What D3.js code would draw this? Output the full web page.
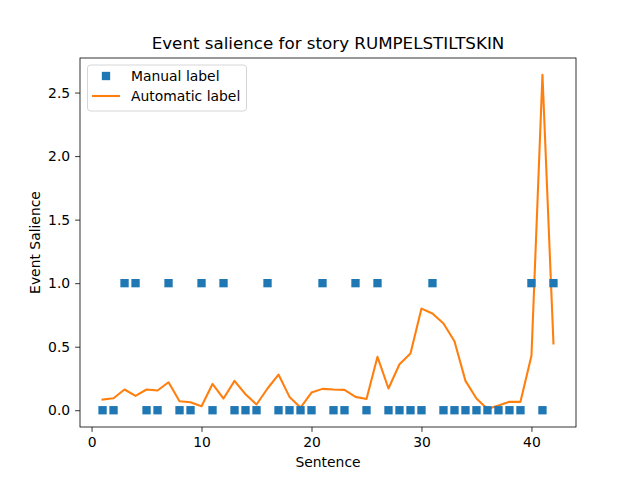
<!DOCTYPE html>
<html>
<head>
<meta charset="utf-8">
<script src="https://cdn.jsdelivr.net/npm/d3@7"></script>
<style>
  body { margin: 0; background: #fff; }
  svg { font-family: "DejaVu Sans", sans-serif; }
</style>
</head>
<body>
<svg id="chart"></svg>
<script>
// Data
const sentences = d3.range(1, 43);
const manualLabel = [0, 0, 1, 1, 0, 0, 1, 0, 0, 1, 0, 1, 0, 0, 0, 1, 0, 0, 0, 0, 1,
  0, 0, 1, 0, 1, 0, 0, 0, 0, 1, 0, 0, 0, 0, 0, 0, 0, 0, 1, 0, 1];
const automaticLabel = [0.084, 0.094, 0.163, 0.113, 0.163, 0.155, 0.22, 0.071, 0.063, 0.031,
  0.207, 0.092, 0.231, 0.126, 0.045, 0.171, 0.281, 0.105, 0.021, 0.139, 0.168,
  0.163, 0.16, 0.105, 0.089, 0.42, 0.171, 0.362, 0.446, 0.8, 0.761, 0.683, 0.543,
  0.231, 0.092, 0.01, 0.037, 0.066, 0.066, 0.428, 2.64, 0.525];
const xTicks = [0, 10, 20, 30, 40];
const yTicks = [0, 0.5, 1, 1.5, 2, 2.5];

const width = 640, height = 480;
const margin = { top: 58, right: 64, bottom: 53, left: 80 };
const innerW = width - margin.left - margin.right;
const innerH = height - margin.top - margin.bottom;

const svg = d3.select("#chart").attr("width", width).attr("height", height);
const g = svg.append("g").attr("transform", `translate(${margin.left},${margin.top})`);

// matplotlib-like 5% margins
const xPad = (d3.max(sentences) - d3.min(sentences)) * 0.05;
const yMax = d3.max(automaticLabel);
const yPad = yMax * 0.05;

const x = d3.scaleLinear()
  .domain([d3.min(sentences) - xPad, d3.max(sentences) + xPad])
  .range([0, innerW]);
const y = d3.scaleLinear()
  .domain([-yPad, yMax + yPad])
  .range([innerH, 0]);

const blue = "#1f77b4", orange = "#ff7f0e";

// Axes
const xAxis = g.append("g")
  .attr("transform", `translate(0,${innerH})`)
  .call(d3.axisBottom(x).tickValues(xTicks).tickFormat(d3.format("d")).tickSize(4.9).tickPadding(4.9).tickSizeOuter(0));
const yAxis = g.append("g")
  .call(d3.axisLeft(y).tickValues(yTicks).tickFormat(d3.format(".1f")).tickSize(4.9).tickPadding(4.9).tickSizeOuter(0));
[xAxis, yAxis].forEach(a => {
  a.select(".domain").remove();
  a.selectAll("line").attr("stroke", "#000").attr("stroke-width", 0.8);
  a.selectAll("text").attr("font-size", "13.9px").attr("fill", "#000")
    .attr("font-family", "DejaVu Sans");
});

// Line
g.append("path")
  .datum(sentences.map((s, i) => [s, automaticLabel[i]]))
  .attr("fill", "none")
  .attr("stroke", orange)
  .attr("stroke-width", 2.08)
  .attr("stroke-linejoin", "round")
  .attr("stroke-linecap", "square")
  .attr("d", d3.line().x(d => x(d[0])).y(d => y(d[1])));

// Markers
const ms = 8.33;
g.selectAll(".manual")
  .data(sentences.map((s, i) => [s, manualLabel[i]]))
  .enter()
  .append("rect")
  .attr("class", "manual")
  .attr("x", d => x(d[0]) - ms / 2)
  .attr("y", d => y(d[1]) - ms / 2)
  .attr("width", ms)
  .attr("height", ms)
  .attr("fill", blue);

// Frame
g.append("rect")
  .attr("width", innerW)
  .attr("height", innerH)
  .attr("fill", "none")
  .attr("stroke", "#000")
  .attr("stroke-width", 0.8);

// Title and labels
svg.append("text")
  .attr("x", margin.left + innerW / 2)
  .attr("y", 49)
  .attr("text-anchor", "middle")
  .attr("font-size", "16.7px")
  .text("Event salience for story RUMPELSTILTSKIN");

svg.append("text")
  .attr("x", margin.left + innerW / 2)
  .attr("y", 467)
  .attr("text-anchor", "middle")
  .attr("font-size", "13.9px")
  .text("Sentence");

svg.append("text")
  .attr("transform", `translate(40,${margin.top + innerH / 2}) rotate(-90)`)
  .attr("text-anchor", "middle")
  .attr("font-size", "13.9px")
  .text("Event Salience");

// Legend
const legend = g.append("g").attr("transform", "translate(7.5,7)");
legend.append("rect")
  .attr("width", 159)
  .attr("height", 46)
  .attr("rx", 3)
  .attr("fill", "#fff")
  .attr("fill-opacity", 0.8)
  .attr("stroke", "#ccc")
  .attr("stroke-width", 0.8);
legend.append("rect")
  .attr("x", 18.5 - ms / 2)
  .attr("y", 11 - ms / 2)
  .attr("width", ms)
  .attr("height", ms)
  .attr("fill", blue);
legend.append("line")
  .attr("x1", 4.5).attr("x2", 32.5)
  .attr("y1", 31).attr("y2", 31)
  .attr("stroke", orange)
  .attr("stroke-width", 2.08);
legend.selectAll(".ltext")
  .data(["Manual label", "Automatic label"])
  .enter()
  .append("text")
  .attr("x", 43.5)
  .attr("y", (d, i) => 11 + i * 20)
  .attr("dy", "0.35em")
  .attr("font-size", "13.9px")
  .text(d => d);
</script>
</body>
</html>
